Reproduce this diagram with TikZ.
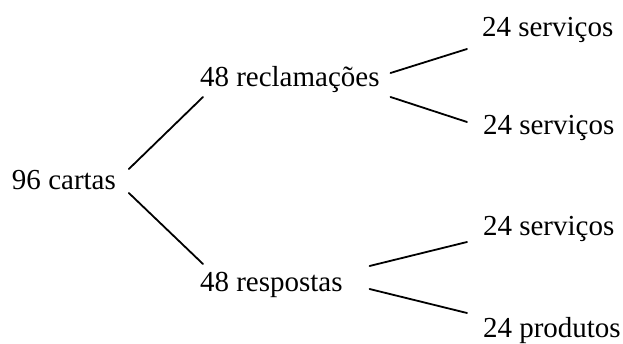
\documentclass[tikz,border=0pt]{standalone}
\usepackage{fontspec}
\setmainfont{Liberation Serif}
\usetikzlibrary{calc}
\tikzset{
  lbl/.style={inner sep=0pt, outer sep=0pt, anchor=base west, font=\fontsize{29}{34}\selectfont},
  edge/.style={line width=1.8pt, line cap=round}
}
\begin{document}
\begin{tikzpicture}[x=1pt,y=-1pt]
\useasboundingbox (0,0) rectangle (623,344);
\node[lbl] (cartas) at (12,190) {96 cartas};
\node[lbl] (recl) at (200,87) {48 reclamações};
\node[lbl] (resp) at (200,291) {48 respostas};
\node[lbl] (s1) at (482,37) {24 serviços};
\node[lbl] (s2) at (483,135) {24 serviços};
\node[lbl] (s3) at (483,236) {24 serviços};
\node[lbl] (prod) at (483,337) {24 produtos};
\draw[edge] ($(cartas.base east)+(13,-21)$) -- ($(recl.base west)+(3,10)$);
\draw[edge] ($(cartas.base east)+(13,3)$) -- ($(resp.base west)+(3,-27)$);
\draw[edge] ($(recl.base east)+(11,-14)$) -- ($(s1.base west)+(-15,12)$);
\draw[edge] ($(recl.base east)+(11,10)$) -- ($(s2.base west)+(-16,-13)$);
\draw[edge] ($(resp.base east)+(27,-25)$) -- ($(s3.base west)+(-16,6)$);
\draw[edge] ($(resp.base east)+(27,-2)$) -- ($(prod.base west)+(-16,-24)$);
\end{tikzpicture}
\end{document}
